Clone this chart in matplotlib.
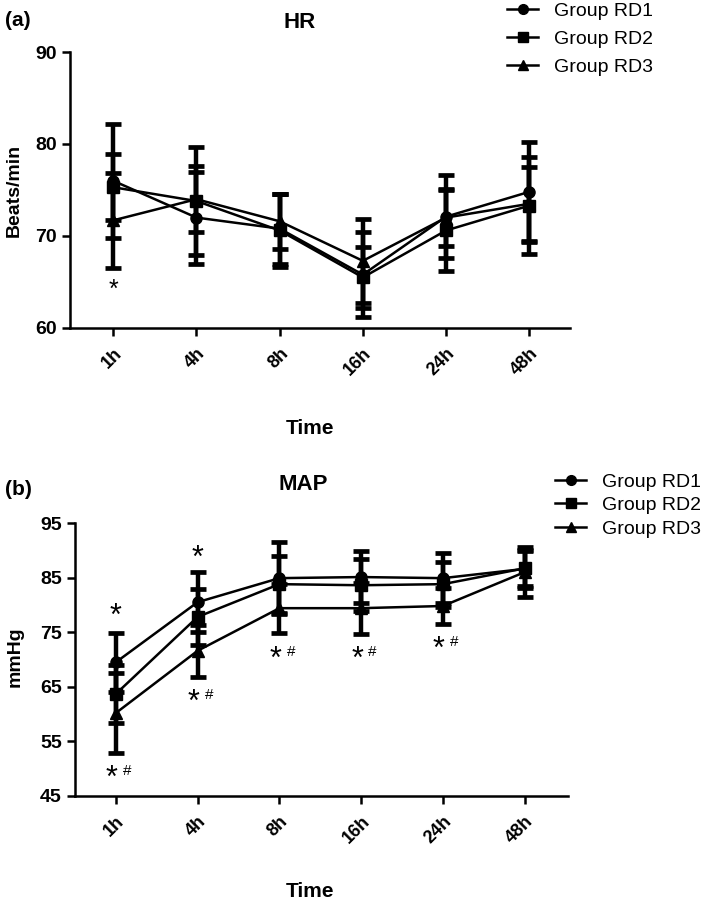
import matplotlib
matplotlib.use("Agg")
import matplotlib.pyplot as plt
import matplotlib.transforms as mtrans
import numpy as np
from matplotlib.lines import Line2D

plt.rcParams['font.family'] = ['Liberation Sans', 'DejaVu Sans']

time_labels = ['1h', '4h', '8h', '16h', '24h', '48h']
groups = ['Group RD1', 'Group RD2', 'Group RD3']
markers = ['o', 's', '^']

# HR (beats/min): mean and SD
hr_rd1 = [76.0, 72.0, 70.8, 65.8, 72.1, 74.8]
hr_rd1_sd = [6.2, 5.0, 3.8, 4.6, 4.5, 5.4]
hr_rd2 = [75.3, 73.8, 70.6, 65.5, 70.6, 73.3]
hr_rd2_sd = [3.6, 5.9, 4.0, 3.3, 4.4, 5.3]
hr_rd3 = [71.7, 74.0, 71.6, 67.3, 72.0, 73.5]
hr_rd3_sd = [5.2, 3.6, 3.0, 4.6, 3.1, 4.0]

# MAP (mmHg): mean and SD
map_rd1 = [69.5, 80.5, 84.9, 85.1, 84.9, 86.6]
map_rd1_sd = [5.4, 5.5, 6.6, 4.8, 4.6, 3.5]
map_rd2 = [63.7, 77.8, 83.8, 83.6, 83.8, 86.7]
map_rd2_sd = [5.3, 5.1, 5.2, 4.8, 4.1, 3.2]
map_rd3 = [60.2, 71.6, 79.4, 79.4, 79.8, 86.0]
map_rd3_sd = [7.3, 4.8, 4.5, 4.7, 3.3, 4.6]

# significance marks: (time index, y level)
hr_marks = [(0, 64.9, '*')]
map_star_marks = [(0, 79.4), (1, 90.0)]
map_starhash_marks = [(0, 49.6), (1, 63.5), (2, 71.4), (3, 71.4), (4, 73.2)]

hr_ticks = [60, 70, 80, 90]
map_ticks = [45, 55, 65, 75, 85, 95]

fig = plt.figure(figsize=(7.09, 9.0), dpi=100)

ax1 = fig.add_axes([70/709, 1-328/900, 500/709, 276/900])
ax2 = fig.add_axes([75/709, 1-796/900, 493/709, 273/900])

x = np.arange(len(time_labels))


def draw(ax, series, sds):
    for vals, sd, mk, lab in zip(series, sds, markers, groups):
        ax.errorbar(x, vals, yerr=sd, color='black', marker=mk,
                    markersize=8 if mk != '^' else 8.5, linewidth=1.8,
                    elinewidth=3.2, capsize=6, capthick=3.4, label=lab,
                    clip_on=False)


def style(ax, ticks):
    for s in ['top', 'right']:
        ax.spines[s].set_visible(False)
    for s in ['left', 'bottom']:
        ax.spines[s].set_linewidth(1.8)
    ax.set_yticks(ticks)
    ax.set_ylim(ticks[0], ticks[-1])
    ax.set_xticks(x)
    ax.set_xticklabels(time_labels, rotation=45, ha='right',
                       rotation_mode='anchor', fontweight='bold', fontsize=13)
    ax.tick_params(axis='both', width=1.8, length=6, labelsize=14)
    ax.tick_params(axis='x', pad=6, labelsize=13)
    for t in ax.get_yticklabels():
        t.set_fontweight('bold')


# --- panel (a) HR ---
draw(ax1, [hr_rd1, hr_rd2, hr_rd3], [hr_rd1_sd, hr_rd2_sd, hr_rd3_sd])
style(ax1, hr_ticks)
ax1.set_xlim(-0.52, 5.49)
ax1.set_ylabel('Beats/min', fontsize=14, fontweight='bold')
ax1.yaxis.set_label_coords(-0.094, 0.5)
ax1.set_xlabel('Time', fontsize=15, fontweight='bold')
ax1.xaxis.set_label_coords(0.48, -0.33)
star1 = mtrans.offset_copy(ax1.transData, fig=fig, y=-5, units='points')
for xi, yv, txt in hr_marks:
    ax1.text(xi, yv, txt, ha='center', va='center', fontsize=18, transform=star1)

# --- panel (b) MAP ---
draw(ax2, [map_rd1, map_rd2, map_rd3], [map_rd1_sd, map_rd2_sd, map_rd3_sd])
style(ax2, map_ticks)
ax2.set_xlim(-0.50, 5.53)
ax2.set_ylabel('mmHg', fontsize=14, fontweight='bold')
ax2.yaxis.set_label_coords(-0.104, 0.51)
ax2.set_xlabel('Time', fontsize=15, fontweight='bold')
ax2.xaxis.set_label_coords(0.477, -0.315)
star2 = mtrans.offset_copy(ax2.transData, fig=fig, y=-6, units='points')
for xi, yv in map_star_marks:
    ax2.text(xi, yv, '*', ha='center', va='center', fontsize=22, transform=star2)
for xi, yv in map_starhash_marks:
    ax2.text(xi - 0.05, yv, '*', ha='center', va='center', fontsize=22, transform=star2)
    ax2.text(xi + 0.14, yv, '#', ha='center', va='center', fontsize=11)

# titles and panel letters
fig.text(300/709, 1-22/900, 'HR', ha='center', va='center', fontsize=16, fontweight='bold')
fig.text(303/709, 1-484/900, 'MAP', ha='center', va='center', fontsize=16, fontweight='bold')
fig.text(5/709, 1-20/900, '(a)', ha='left', va='center', fontsize=15, fontweight='bold')
fig.text(5/709, 1-490/900, '(b)', ha='left', va='center', fontsize=15, fontweight='bold')

leg_kw = dict(frameon=False, handlelength=1.6, handletextpad=0.8,
              borderpad=0, borderaxespad=0, fontsize=14, loc='upper left')
leg_handles = [Line2D([], [], color='black', marker=m, markersize=7, linewidth=1.8) for m in markers]
fig.legend(leg_handles, groups, bbox_to_anchor=(507/709, 1-2/900),
           labelspacing=0.55, **leg_kw)
fig.legend(leg_handles, groups, bbox_to_anchor=(555/709, 1-473/900),
           labelspacing=0.3, **leg_kw)

fig.savefig('out.png', dpi=100)
